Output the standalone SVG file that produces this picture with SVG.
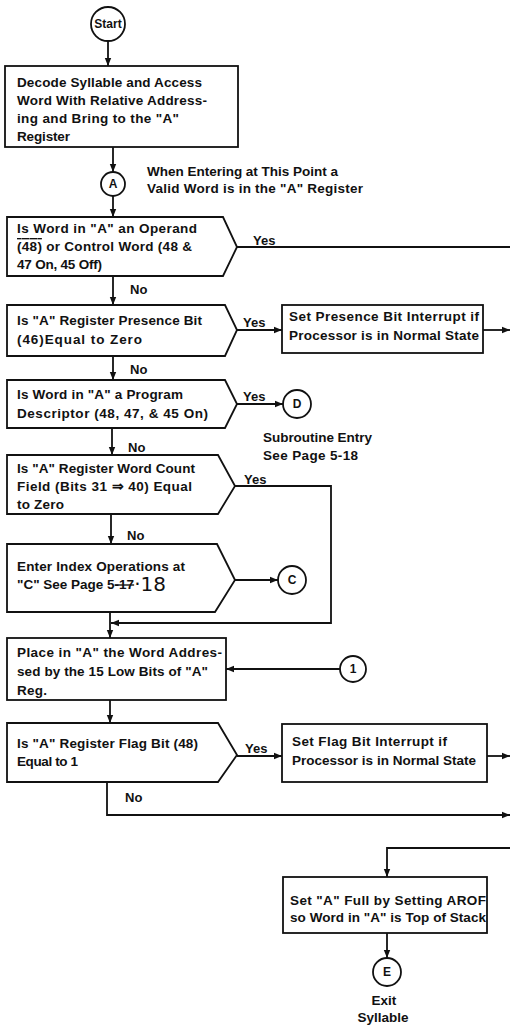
<svg xmlns="http://www.w3.org/2000/svg" width="510" height="1026" viewBox="0 0 510 1026">
<style>
.t{font-family:"Liberation Sans",Arial,sans-serif;font-size:13.5px;font-weight:bold;fill:#111}
.s{font-family:"Liberation Sans",Arial,sans-serif;font-size:13px;font-weight:bold;fill:#111}
.c{font-family:"Liberation Sans",Arial,sans-serif;font-size:12px;font-weight:bold;fill:#111;text-anchor:middle}
.b{fill:#fff;stroke:#111;stroke-width:1.8}
.l{fill:none;stroke:#111;stroke-width:1.8}
.h{font-family:"DejaVu Sans",sans-serif;font-size:20px;font-weight:normal;fill:#111}
</style>
<defs>
<marker id="ar" viewBox="0 0 10 10" refX="10" refY="5" markerWidth="4.5" markerHeight="4.5" orient="auto" markerUnits="strokeWidth">
<path d="M0,1 L10,5 L0,9 z" fill="#111"/>
</marker>
</defs>
<rect width="510" height="1026" fill="#fff"/>

<g id="connectors">
<path class="l" d="M108,41 V66" marker-end="url(#ar)"/>
<path class="l" d="M113,147 V172" marker-end="url(#ar)"/>
<path class="l" d="M113,196 V217" marker-end="url(#ar)"/>
<path class="l" d="M237,247 H510"/>
<path class="l" d="M113,276 V305" marker-end="url(#ar)"/>
<path class="l" d="M237,330 H282" marker-end="url(#ar)"/>
<path class="l" d="M483,330 H510" marker-end="url(#ar)"/>
<path class="l" d="M113,356 V380" marker-end="url(#ar)"/>
<path class="l" d="M237,404 H283" marker-end="url(#ar)"/>
<path class="l" d="M112,428 V455" marker-end="url(#ar)"/>
<path class="l" d="M235,486 H331 V623 H111" marker-end="url(#ar)"/>
<path class="l" d="M111,514 V544" marker-end="url(#ar)"/>
<path class="l" d="M235,580 H278" marker-end="url(#ar)"/>
<path class="l" d="M110,612 V638" marker-end="url(#ar)"/>
<path class="l" d="M340,669 H226" marker-end="url(#ar)"/>
<path class="l" d="M110,700 V723" marker-end="url(#ar)"/>
<path class="l" d="M237,756 H282" marker-end="url(#ar)"/>
<path class="l" d="M487,756 H510" marker-end="url(#ar)"/>
<path class="l" d="M107,782 V815 H510" marker-end="url(#ar)"/>
<path class="l" d="M510,848 H387 V877" marker-end="url(#ar)"/>
<path class="l" d="M387,933 V958" marker-end="url(#ar)"/>
<text class="s" x="253" y="245">Yes</text>
<text class="s" x="130" y="294">No</text>
<text class="s" x="243" y="327">Yes</text>
<text class="s" x="130" y="374">No</text>
<text class="s" x="243" y="401">Yes</text>
<text class="s" x="128" y="452">No</text>
<text class="s" x="244" y="484">Yes</text>
<text class="s" x="127" y="540">No</text>
<text class="s" x="245" y="753">Yes</text>
<text class="s" x="125" y="802">No</text>
</g>

<g id="start">
<circle class="b" cx="108" cy="24" r="17"/>
<text class="c" x="108" y="28">Start</text>
</g>

<g id="decode">
<rect class="b" x="5" y="66" width="233" height="81"/>
<text class="t" x="17" y="87" textLength="185">Decode Syllable and Access</text>
<text class="t" x="17" y="105" textLength="190">Word With Relative Address-</text>
<text class="t" x="17" y="123" textLength="162">ing and Bring to the "A"</text>
<text class="t" x="17" y="141" textLength="53">Register</text>
</g>

<g id="conA">
<circle class="b" cx="113" cy="184" r="12"/>
<text class="c" x="113" y="188">A</text>
<text class="t" x="147" y="176" textLength="191">When Entering at This Point a</text>
<text class="t" x="147" y="193" textLength="216">Valid Word is in the "A" Register</text>
</g>

<g id="operand">
<polygon class="b" points="7,217 223,217 237,247 223,276 7,276"/>
<text class="t" x="17" y="233" textLength="180">Is Word in "A" an Operand</text>
<text class="t" x="17" y="251" textLength="175"><tspan text-decoration="overline">(48)</tspan> or Control Word (48 &amp;</text>
<text class="t" x="17" y="269" textLength="85">47 On, 45 Off)</text>
</g>

<g id="presence">
<polygon class="b" points="7,305 225,305 237,330 225,356 7,356"/>
<text class="t" x="17" y="325" textLength="185">Is "A" Register Presence Bit</text>
<text class="t" x="17" y="344" textLength="125">(46)Equal to Zero</text>
</g>

<g id="presenceInt">
<rect class="b" x="282" y="305" width="201" height="48"/>
<text class="t" x="289" y="321" textLength="190">Set Presence Bit Interrupt if</text>
<text class="t" x="289" y="340" textLength="190">Processor is in Normal State</text>
</g>

<g id="program">
<polygon class="b" points="7,380 225,380 237,404 225,428 7,428"/>
<text class="t" x="17" y="399" textLength="166">Is Word in "A" a Program</text>
<text class="t" x="17" y="418" textLength="191">Descriptor (48, 47, &amp; 45 On)</text>
</g>

<g id="conD">
<circle class="b" cx="297" cy="404" r="14"/>
<text class="c" x="297" y="408">D</text>
<text class="t" x="263" y="442" textLength="109">Subroutine Entry</text>
<text class="t" x="263" y="460" textLength="95">See Page 5-18</text>
</g>

<g id="wordcount">
<polygon class="b" points="7,455 218,455 235,486 218,514 7,514"/>
<text class="t" x="17" y="473" textLength="178">Is "A" Register Word Count</text>
<text class="t" x="17" y="491" textLength="175">Field (Bits 31 ⇒ 40) Equal</text>
<text class="t" x="17" y="509" textLength="47">to Zero</text>
</g>

<g id="index">
<polygon class="b" points="7,544 217,544 235,580 215,612 7,612"/>
<text class="t" x="17" y="571" textLength="168">Enter Index Operations at</text>
<text class="t" x="17" y="589">"C" See Page 5<tspan text-decoration="line-through">-17</tspan><tspan class="h" dy="2">·18</tspan></text>
</g>

<g id="conC">
<circle class="b" cx="292" cy="580" r="14"/>
<text class="c" x="292" y="584">C</text>
</g>

<g id="place">
<rect class="b" x="7" y="638" width="219" height="62"/>
<text class="t" x="17" y="657" textLength="205">Place in "A" the Word Addres-</text>
<text class="t" x="17" y="676" textLength="191">sed by the 15 Low Bits of "A"</text>
<text class="t" x="17" y="695" textLength="30">Reg.</text>
</g>

<g id="con1">
<circle class="b" cx="353" cy="669" r="13"/>
<text class="c" x="353" y="673">1</text>
</g>

<g id="flag">
<polygon class="b" points="7,723 218,723 237,755 218,782 7,782"/>
<text class="t" x="17" y="748" textLength="181">Is "A" Register Flag Bit (48)</text>
<text class="t" x="17" y="766" textLength="61">Equal to 1</text>
</g>

<g id="flagInt">
<rect class="b" x="282" y="724" width="205" height="58"/>
<text class="t" x="292" y="746" textLength="155">Set Flag Bit Interrupt if</text>
<text class="t" x="292" y="765" textLength="184">Processor is in Normal State</text>
</g>

<g id="setFull">
<rect class="b" x="283" y="877" width="204" height="56"/>
<text class="t" x="290" y="905" textLength="196">Set "A" Full by Setting AROF</text>
<text class="t" x="290" y="922" textLength="196">so Word in "A" is Top of Stack</text>
</g>

<g id="conE">
<circle class="b" cx="387" cy="972" r="14"/>
<text class="c" x="387" y="976">E</text>
<text class="t" x="384" y="1005" text-anchor="middle">Exit</text>
<text class="t" x="383" y="1022" text-anchor="middle">Syllable</text>
</g>
</svg>
